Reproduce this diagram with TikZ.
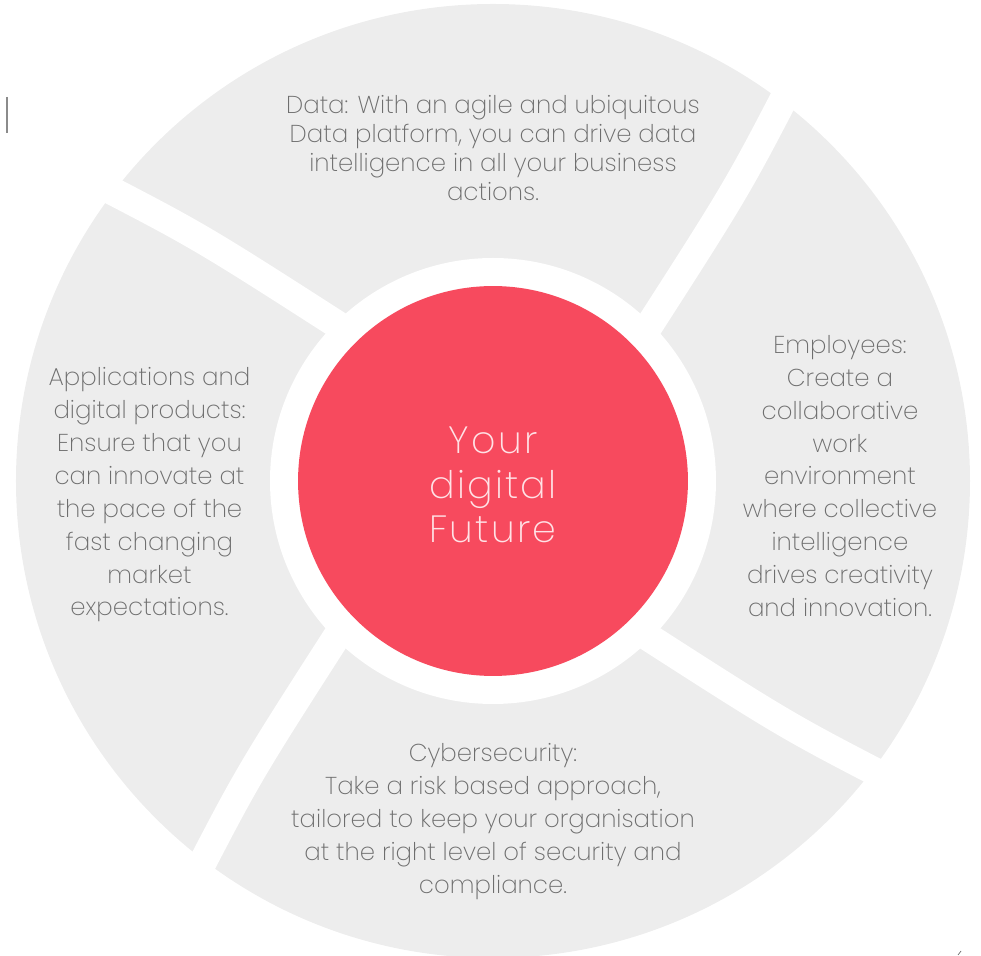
\documentclass[tikz,border=0pt]{standalone}
\usepackage{fontspec}
\setmainfont{Poppins}[UprightFont=* ExtraLight]
\usetikzlibrary{positioning}
\definecolor{ringgray}{RGB}{237,237,237}
\definecolor{futurered}{RGB}{247,74,94}
\definecolor{labelgray}{RGB}{110,110,110}
\definecolor{futuretext}{RGB}{255,226,230}
\begin{document}
\begin{tikzpicture}[x=0.02cm, y=0.02cm, gap band/.style={draw=white, line width=15.9pt},seg label/.style={align=center, text=labelgray, font=\fontsize{13.9}{18.7}\selectfont},center node/.style={circle, fill=futurered, minimum size=7.8cm, inner sep=0pt, align=center, text=futuretext, font=\fontsize{21.6}{25.3}\selectfont\addfontfeature{LetterSpace=6}}]
\useasboundingbox (-493,-475) rectangle (488,481);
\begin{scope}
\fill[ringgray] (0,0) circle (477);
\foreach \a in {0,90,180,270}
  \draw[gap band, rotate=\a] (145,138) .. controls (244,292) .. (301,402);
\fill[white] (0,0) circle (223);
%\draw[red] (0,0) circle (477);
\end{scope}
\node[center node] (future) at (0,0) {\raisebox{-2.2pt}[\height][\depth]{\parbox{7cm}{\centering Your\\digital\\Future}}};
\begin{scope}
\node[seg label, font=\fontsize{13.9}{16.5}\selectfont] (data) at (0,333) {Data: With an agile and ubiquitous\\Data platform, you can drive data\\intelligence in all your business\\actions.};
\node[seg label] (employees) at (347,5) {Employees:\\Create a\\collaborative\\work\\environment\\where collective\\intelligence\\drives creativity\\and innovation.};
\node[seg label] (apps) at (-343.5,-14) {Applications and\\digital products:\\Ensure that you\\can innovate at\\the pace of the\\fast changing\\market\\expectations.};
\node[seg label] (cyber) at (0,-340.5) {Cybersecurity:\\Take a risk based approach,\\tailored to keep your organisation\\at the right level of security and\\compliance.};
\end{scope}
\draw[labelgray!80, line width=1pt] (-486,384) -- (-486,348);
\draw[labelgray, line width=0.4pt] (465,-474) -- (468,-470);
\end{tikzpicture}
\end{document}
